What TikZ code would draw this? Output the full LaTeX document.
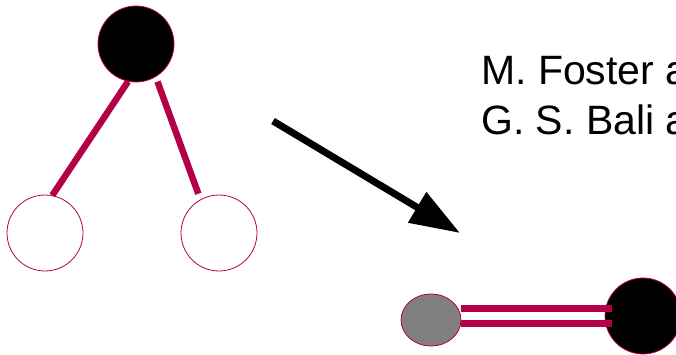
\documentclass[tikz,border=0pt]{standalone}
\usepackage{fontspec}
\setmainfont{Liberation Sans}
\usetikzlibrary{arrows.meta,shapes.geometric}
\definecolor{bondred}{RGB}{180,0,70}
\tikzset{
  quark/.style={circle, draw=bondred, line width=0.8pt, minimum size=76pt, inner sep=0pt},
  bond/.style={draw=bondred, line width=6.5pt},
  refline/.style={anchor=base west, inner sep=0pt, font=\fontsize{41}{50}\selectfont},
}

\begin{document}
\begin{tikzpicture}
  \useasboundingbox (0pt,0pt) rectangle (676pt,-355pt);

  % three quarks
  \node[quark, fill=black] (top) at (136pt,-44pt) {};
  \node[quark, fill=white] (left) at (45pt,-233pt) {};
  \node[quark, fill=white] (right) at (219pt,-233pt) {};
  \draw[bond] (top.258) -- (left.79);
  \draw[bond, shorten <=5pt, shorten >=6pt] (top.301) -- (right.119);

  % arrow
  \coordinate (from) at (273pt,-121pt);
  \coordinate (to) at (460pt,-233pt);
  \draw[line width=7pt, -{Triangle[length=50pt,width=34pt]}] (from) -- (to);

  \node[refline] (ref1) at (481pt,-85pt) {M. Foster a};
  \node[refline] (ref2) at (481pt,-135pt) {G. S. Bali a};

  % quark pair
  \node[ellipse, draw=bondred, line width=0.8pt, fill=black!50, minimum width=60pt, minimum height=52pt, inner sep=0pt] (light) at (431pt,-320pt) {};
  \node[quark, fill=black] (heavy) at (643pt,-316pt) {};
  \draw[bond, shorten >=-7pt] (light.east |- 0pt,-308.5pt) -- (heavy.west |- 0pt,-308.5pt);
  \draw[bond, shorten >=-7pt] (light.east |- 0pt,-323.5pt) -- (heavy.west |- 0pt,-323.5pt);
\end{tikzpicture}
\end{document}
